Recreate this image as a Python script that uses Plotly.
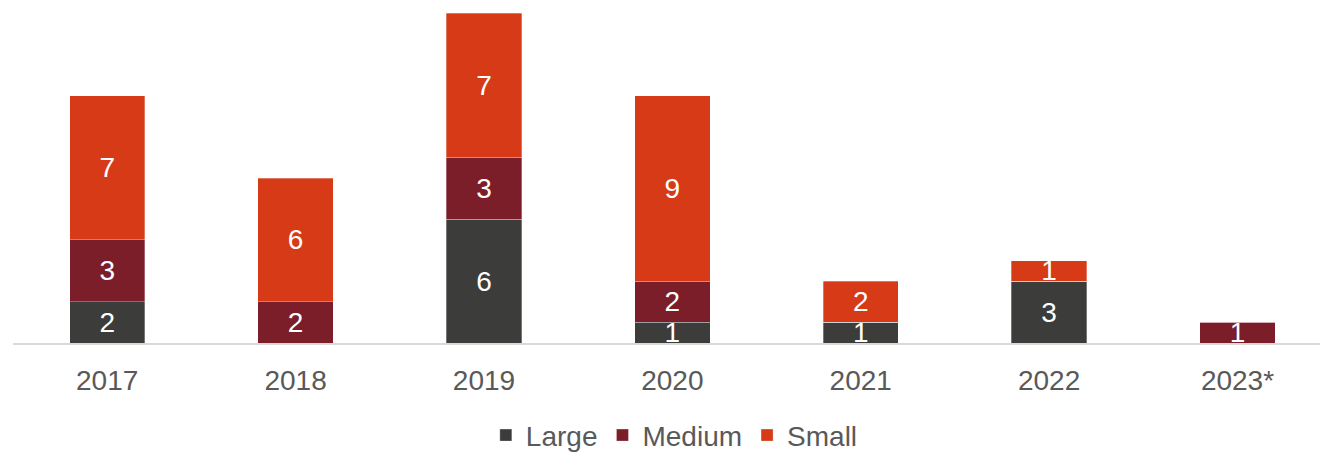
import plotly.graph_objects as go

years = ["2017", "2018", "2019", "2020", "2021", "2022", "2023*"]
large = [2, 0, 6, 1, 1, 3, 0]
medium = [3, 2, 3, 2, 0, 0, 1]
small = [7, 6, 7, 9, 2, 1, 0]

series = [
    ("Large", large, "#3C3C3B"),
    ("Medium", medium, "#7B1E2A"),
    ("Small", small, "#D63A17"),
]

FONT = "Liberation Sans, Arial, sans-serif"

fig = go.Figure()
for name, vals, color in series:
    fig.add_trace(go.Bar(
        name=name,
        x=years,
        y=vals,
        marker=dict(color=color, line=dict(color="rgba(255,255,255,0.5)", width=0.6)),
        text=[str(v) if v else "" for v in vals],
        textposition="inside",
        insidetextanchor="middle",
        textangle=0,
        constraintext="none",
        textfont=dict(family=FONT, size=28, color="white"),
        cliponaxis=False,
    ))

fig.update_layout(
    barmode="stack",
    bargap=0.6,
    width=1320,
    height=452,
    margin=dict(l=13, r=0, t=13, b=109, autoexpand=False),
    plot_bgcolor="white",
    paper_bgcolor="white",
    font=dict(family=FONT, size=28, color="#595959"),
    showlegend=True,
    legend=dict(
        orientation="h",
        x=0.506, xanchor="center",
        y=-0.28, yanchor="middle",
        font=dict(family=FONT, size=28, color="#595959"),
        itemwidth=30,
        traceorder="normal",
    ),
    xaxis=dict(
        range=[-0.5, 6.438],
        showline=True,
        linecolor="#D9D9D9",
        linewidth=1.5,
        showgrid=False,
        ticks="",
        tickfont=dict(family=FONT, size=28, color="#595959"),
        ticklabelstandoff=12,
    ),
    yaxis=dict(
        range=[0, 16],
        visible=False,
        showgrid=False,
        zeroline=False,
    ),
)

fig.write_html("out.html")
